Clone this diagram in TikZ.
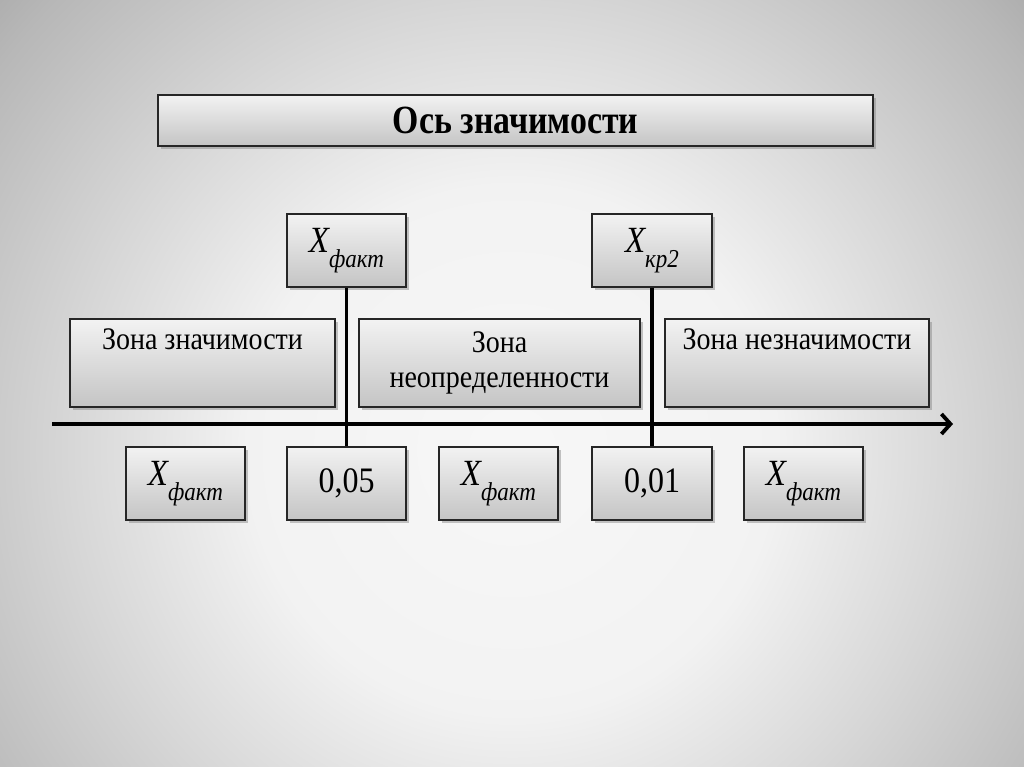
\documentclass[tikz,border=0pt]{standalone}
\usepackage{fontspec}
\setmainfont{Liberation Serif}
\usetikzlibrary{arrows.meta, positioning, shadows}

\pgfdeclareradialshading{slidebg}{\pgfpoint{0bp}{0bp}}{%
  color(0bp)=(white!97!black);
  color(10.6bp)=(white!95!black);
  color(18bp)=(white!84!black);
  color(25.8bp)=(white!72!black);
  color(29.3bp)=(white!65!black);
  color(35.4bp)=(white!60!black);
  color(50bp)=(white!59!black)}

\newcommand{\tall}[1]{\scalebox{1}[1.12]{#1}}
\newcommand{\xsub}[1]{\tall{{\fontsize{33}{33}\selectfont\itshape X}\raisebox{-13pt}{\fontsize{23}{23}\selectfont\itshape #1}}}

\begin{document}
\begin{tikzpicture}[x=1pt, y=1pt,
  box/.style={rectangle, draw=black!85, line width=1.1pt,
              top color=white!95!black, bottom color=white!77!black,
              drop shadow={shadow xshift=3pt, shadow yshift=-3pt, opacity=0.45},
              align=center, inner sep=0pt, font=\fontsize{28}{35}\selectfont},
  valbox/.style={box, minimum width=119pt, minimum height=73pt,
                 font=\fontsize{32}{35}\selectfont},
  zonebox/.style={box, minimum height=88pt},
  axisline/.style={line width=3.8pt, black},
  zonetext/.style={anchor=north, yshift=-7pt, font=\fontsize{28}{35}\selectfont},
]
  \useasboundingbox (0,0) rectangle (1024,767);
  % background
  \begin{scope}
    \clip (0,0) rectangle (1024,767);
    \path[shading=slidebg] (-108,-303) rectangle (1132,937);
  \end{scope}

  % title
  \node[box, minimum width=715pt, minimum height=51pt] (title) at (515.5,646.5)
    {\scalebox{0.845}[1]{\fontsize{40}{40}\selectfont\bfseries Ось значимости}};

  % critical values on top
  \node[valbox] (xf) at (346.5,516.5) {\xsub{факт}};
  \node[valbox, minimum width=120pt] (xk) at (652,516.5) {\xsub{кр2}};

  % zones
  \node[zonebox, minimum width=265pt,
        label={[zonetext]north:\tall{Зона значимости}}] (z1) at (202.5,404) {};
  \node[zonebox, minimum width=281pt] (z2) at (499.5,404)
    {\tall{Зона}\\\tall{неопределенности}};
  \node[zonebox, minimum width=264pt,
        label={[zonetext]north:\tall{Зона незначимости}}] (z3) at (797,404) {};

  % values below the axis
  \node[valbox] (b1) at (185.5,283.5) {\xsub{факт}};
  \node[valbox] (p05) at (346.5,283.5) {\tall{0,05}};
  \node[valbox] (b2) at (498.5,283.5) {\xsub{факт}};
  \node[valbox, minimum width=120pt] (p01) at (652,283.5) {\tall{0,01}};
  \node[valbox] (b3) at (803.5,283.5) {\xsub{факт}};

  % axis
  \coordinate (axL) at (52,343);
  \coordinate (axR) at (953,343);
  \draw[axisline, -{Straight Barb[length=9pt, width=20pt, line width=3.8pt]}] (axL) -- (axR);
  \draw[axisline] (xf) -- (p05);
  \draw[axisline] (xk) -- (p01);
\end{tikzpicture}
\end{document}
